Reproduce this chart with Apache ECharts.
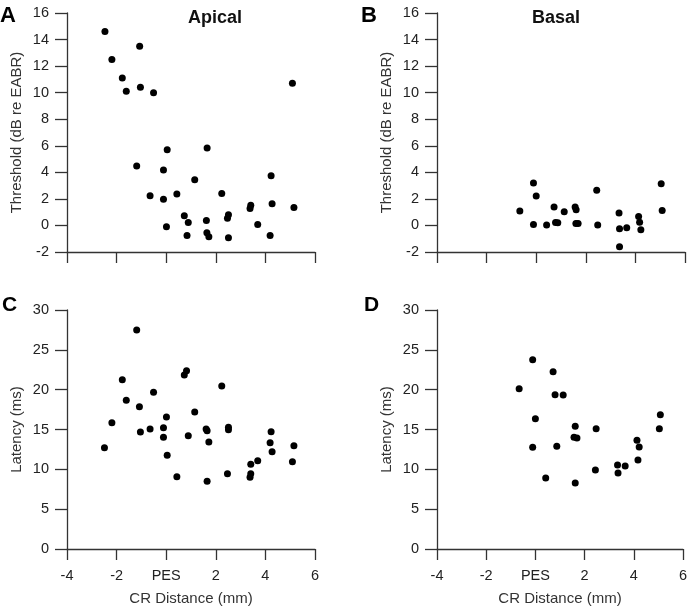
<!DOCTYPE html>
<html>
<head>
<meta charset="utf-8">
<script src="https://cdn.jsdelivr.net/npm/echarts@6/dist/echarts.min.js"></script>
<style>
  html, body { margin: 0; padding: 0; background: #fff; }
  #chart { width: 690px; height: 609px; }
</style>
</head>
<body>
<div id="chart"></div>
<script>
// x ticks: 0 is labelled PES
var xTickLabels = { '-4': '-4', '-2': '-2', '0': 'PES', '2': '2', '4': '4', '6': '6' };

// A - apical thresholds
var apicalThrX = [-2.47, -2.19, -1.77, -1.61, -1.07, -1.04, -0.51, 5.09, -1.19, 0.04, 1.65, -0.11, 1.15, 4.23,
  -0.65, -0.11, 0.43, 2.24, 0.73, 0.89, 0.01, 0.84, 1.62, 1.64, 1.72, 2.51, 2.47, 2.51, 3.38, 3.41, 3.69, 4.27, 4.19, 5.15];
var apicalThrY = [14.6, 12.5, 11.1, 10.1, 13.5, 10.4, 10.0, 10.7, 4.47, 5.7, 5.83, 4.17, 3.44, 3.74,
  2.24, 1.98, 2.36, 2.41, 0.73, 0.23, -0.1, -0.75, 0.38, -0.55, -0.85, 0.8, 0.55, -0.93, 1.28, 1.53, 0.08, 1.63, -0.75, 1.36];

// B - basal thresholds
var basalThrX = [-0.66, -0.11, 0.0, -0.11, 0.42, 0.72, 0.78, 0.87, 1.13, 1.57, 1.61, 1.6, 1.69, 2.44,
  2.48, 3.34, 3.36, 3.65, 3.36, 4.13, 4.17, 4.22, 5.04, 5.08];
var basalThrY = [1.08, 3.19, 2.21, 0.08, 0.03, 1.38, 0.23, 0.2, 1.03, 1.38, 1.18, 0.15, 0.15, 2.66,
  0.03, 0.93, -0.25, -0.18, -1.61, 0.68, 0.25, -0.33, 3.14, 1.13];

// C - apical latencies
var apicalLatX = [-2.49, -2.19, -1.77, -1.61, -1.19, -1.08, -1.04, -0.65, -0.51, -0.11, -0.11, 0.01, 0.04, 0.43,
  0.73, 0.82, 0.89, 1.15, 1.61, 1.65, 1.72, 1.65, 2.24, 2.47, 2.51, 2.51, 3.38, 3.41, 3.41, 3.69, 4.23, 4.19, 4.27, 5.09, 5.15];
var apicalLatY = [12.72, 15.86, 21.26, 18.66, 27.49, 17.87, 14.69, 15.06, 19.67, 15.23, 14.02, 16.57, 11.76, 9.08,
  21.84, 22.38, 14.23, 17.2, 15.06, 14.85, 13.43, 8.49, 20.46, 9.46, 15.27, 14.98, 9.0, 9.46, 10.63, 11.09, 14.73, 13.35, 12.22, 10.96, 12.97];

// D - basal latencies
var basalLatX = [-0.66, -0.11, 0.0, -0.11, 0.42, 0.72, 0.8, 0.87, 1.13, 1.62, 1.57, 1.69, 1.62, 2.47,
  2.44, 3.34, 3.36, 3.65, 4.13, 4.22, 4.17, 5.04, 5.08];
var basalLatY = [20.13, 23.77, 16.36, 12.76, 8.91, 22.26, 19.37, 12.89, 19.33, 15.4, 14.02, 13.93, 8.28, 15.1,
  9.92, 10.54, 9.54, 10.42, 13.64, 12.8, 11.17, 15.1, 16.86];

function pairs(xs, ys) {
  return xs.map(function (x, i) { return [x, ys[i]]; });
}

var axisColor = '#333';
var font = 'Liberation Sans, Arial, sans-serif';

function xAxisCfg(gridIndex, showLabels) {
  return {
    type: 'value', gridIndex: gridIndex, min: -4, max: 6, interval: 2,
    name: showLabels ? 'CR Distance (mm)' : '', nameLocation: 'middle', nameGap: 42,
    nameTextStyle: { color: '#333', fontSize: 15, fontFamily: font },
    axisLine: { onZero: false, lineStyle: { color: axisColor, width: 1.3 } },
    axisTick: { show: true, length: 11, lineStyle: { color: axisColor, width: 1.3 } },
    axisLabel: {
      show: showLabels, color: '#222', fontSize: 14.5, fontFamily: font, margin: 19,
      formatter: function (v) { return xTickLabels[String(v)]; }
    },
    splitLine: { show: false }
  };
}

function yAxisCfg(gridIndex, name, min, max, interval) {
  return {
    type: 'value', gridIndex: gridIndex, min: min, max: max, interval: interval,
    name: name, nameLocation: 'middle', nameGap: 43,
    nameTextStyle: { color: '#333', fontSize: 15, fontFamily: font },
    axisLine: { show: true, onZero: false, lineStyle: { color: axisColor, width: 1.3 } },
    axisTick: { show: true, length: 12, lineStyle: { color: axisColor, width: 1.3 } },
    axisLabel: { color: '#222', fontSize: 14.5, fontFamily: font, margin: 18 },
    splitLine: { show: false }
  };
}

function scatter(i, data) {
  return {
    type: 'scatter', xAxisIndex: i, yAxisIndex: i, data: data,
    symbolSize: 7, itemStyle: { color: '#000', opacity: 1 }, silent: true
  };
}

function label(text, left, top, size) {
  return {
    text: text, left: left, top: top, padding: 0,
    textStyle: { fontSize: size, fontWeight: 'bold', color: '#000', fontFamily: font }
  };
}

var chart = echarts.init(document.getElementById('chart'), null, { renderer: 'canvas' });
chart.setOption({
  animation: false,
  backgroundColor: '#fff',
  textStyle: { fontFamily: font },
  title: [
    { text: 'Apical', left: 215, top: 9, padding: 0, textAlign: 'center', textStyle: { fontSize: 18, fontWeight: 'bold', color: '#111', fontFamily: font } },
    { text: 'Basal', left: 556, top: 9, padding: 0, textAlign: 'center', textStyle: { fontSize: 18, fontWeight: 'bold', color: '#111', fontFamily: font } },
    label('A', 0, 5, 22),
    label('B', 361, 5, 22),
    label('C', 2, 295, 21),
    label('D', 364, 295, 21)
  ],
  grid: [
    { left: 67, width: 248, top: 13, height: 239 },
    { left: 437, width: 248, top: 13, height: 239 },
    { left: 67, width: 248, top: 310, height: 239 },
    { left: 437, width: 248, top: 310, height: 239 }
  ],
  xAxis: [xAxisCfg(0, false), xAxisCfg(1, false), xAxisCfg(2, true), xAxisCfg(3, true)],
  yAxis: [
    yAxisCfg(0, 'Threshold (dB re EABR)', -2, 16, 2),
    yAxisCfg(1, 'Threshold (dB re EABR)', -2, 16, 2),
    yAxisCfg(2, 'Latency (ms)', 0, 30, 5),
    yAxisCfg(3, 'Latency (ms)', 0, 30, 5)
  ],
  series: [
    scatter(0, pairs(apicalThrX, apicalThrY)),
    scatter(1, pairs(basalThrX, basalThrY)),
    scatter(2, pairs(apicalLatX, apicalLatY)),
    scatter(3, pairs(basalLatX, basalLatY))
  ]
});
</script>
</body>
</html>
